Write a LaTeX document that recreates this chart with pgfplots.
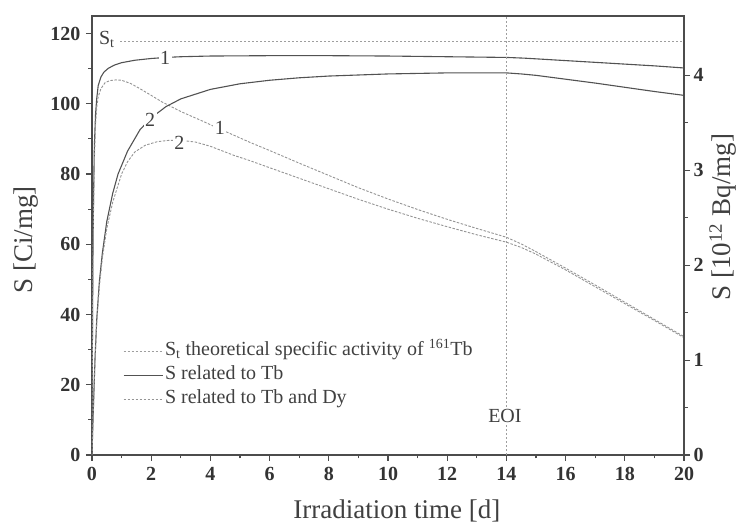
\documentclass[border=0pt]{standalone}
\usepackage{pgfplots}
\pgfplotsset{compat=1.18}
\usepackage{fontspec}
\setmainfont{Liberation Serif}

\definecolor{solidc}{gray}{0.32}
\definecolor{dashc}{gray}{0.58}
\definecolor{refc}{gray}{0.62}
\definecolor{framec}{gray}{0.3}

\pgfplotsset{
  frame/.style={
    scale only axis, width=592pt, height=439pt,
    xmin=0, xmax=20,
    tick align=outside,
    major tick length=6pt, minor tick length=3.5pt,
    axis line style={framec, line width=1.3pt},
    every tick/.style={framec, line width=1.1pt},
    /pgf/number format/assume math mode=true,
    ticklabel style={font=\bfseries\fontsize{20}{20}\selectfont, text=black!80},
    label style={font=\fontsize{27}{27}\selectfont, text=black!75},
  },
  tbline/.style={solidc, line width=1.1pt},
  dyline/.style={dashc, line width=0.9pt, dash pattern=on 2.5pt off 1.5pt},
  refline/.style={refc, line width=0.8pt, dash pattern=on 2pt off 2pt},
}

\begin{document}
\begin{tikzpicture}
\begin{axis}[
  frame,
  ymin=0, ymax=125,
  xtick={0,2,...,20}, minor xtick={1,3,...,19},
  ytick={0,20,...,120}, minor ytick={10,30,...,110},
  xtick pos=bottom, ytick pos=left,
  xticklabel style={yshift=-3pt},
  yticklabel style={xshift=-2pt},
  xlabel={Irradiation time [d]},
  xlabel style={at={(rel axis cs:0.515,0)}, anchor=center, yshift=-56pt},
  ylabel={S [Ci/mg]},
  ylabel style={at={(rel axis cs:0,0.49)}, anchor=center, yshift=66pt},
  legend cell align=left,
  legend style={draw=none, fill=none, at={(rel axis cs:0.052,0.262)}, anchor=north west,
    font=\fontsize{20}{20}\selectfont, text=black!75, row sep=2pt, inner sep=0pt,
    nodes={text height=13.5pt, text depth=4.5pt}},
  legend image code/.code={\draw[#1] (0pt,0pt) -- (39pt,0pt);},
]
\coordinate (bl) at (rel axis cs:0,0);
\coordinate (tr) at (rel axis cs:1,1);

% theoretical specific activity of 161Tb
\addplot[refline] coordinates {(0.95,117.8) (20,117.8)};
\addlegendentry{S\textsubscript{t} theoretical specific activity of \textsuperscript{161}Tb}

% curve 1, S related to Tb
\addplot[tbline] coordinates {
 (0,0) (0.01,25) (0.03,55) (0.05,72) (0.08,88) (0.12,97) (0.16,101.5) (0.21,105.2)
 (0.3,107.6) (0.4,109) (0.55,110.1) (0.75,111) (1,111.7) (1.45,112.4) (2,112.9)
 (2.5,113.2) (3,113.4) (4,113.6) (6,113.7) (8,113.7) (10,113.6) (12,113.4) (14,113.2)
 (14.6,113.0) (15,112.8) (16,112.3) (17,111.8) (18,111.3) (19,110.8) (20,110.2)};
\addlegendentry{S related to Tb}

% curve 1, S related to Tb and Dy
\addplot[dyline] coordinates {
 (0,0) (0.01,25) (0.03,52) (0.05,68) (0.08,84) (0.12,94) (0.16,99) (0.21,102)
 (0.3,104.3) (0.44,106) (0.6,106.6) (0.8,106.8) (1,106.7) (1.3,105.8) (1.6,104.4)
 (2,102.4) (2.35,100.6) (3,97.8) (3.7,95.2) (4.3,92.9) (5.34,89) (6,86.7) (7,83.1)
 (8,79.6) (9,76.1) (10,72.9) (11,69.9) (12,67.1) (13,64.5) (14,62) (14.5,60.1)
 (15,57.9) (16,53.2) (17,48.4) (18,43.5) (19,38.6) (20,33.7)};
\addlegendentry{S related to Tb and Dy}

% curve 2, S related to Tb
\addplot[tbline, forget plot] coordinates {
 (0,0) (0.02,6) (0.05,14) (0.1,27) (0.16,38.6) (0.25,49.5) (0.35,57.5) (0.5,66.5)
 (0.7,74.5) (0.88,80) (1.2,86.5) (1.62,92.6) (2,96) (2.5,99.2) (3,101.4) (4,104.1)
 (5,105.7) (6,106.7) (7,107.4) (8,107.9) (10,108.5) (12,108.8) (14,108.8) (14.5,108.5)
 (15,108.1) (16,107) (17,105.9) (18,104.7) (19,103.5) (20,102.4)};

% curve 2, S related to Tb and Dy
\addplot[dyline, forget plot] coordinates {
 (0,0) (0.02,6) (0.05,14) (0.1,26.5) (0.16,37.5) (0.25,48) (0.35,56) (0.5,64.5)
 (0.7,72) (1,80) (1.2,83.5) (1.45,86.3) (1.8,88.2) (2.2,89.2) (2.6,89.6) (3,89.6)
 (3.5,89.1) (4,87.9) (4.8,85.3) (5.34,83.8) (6,81.8) (7,78.8) (8,75.8) (9,72.8)
 (10,70) (11,67.4) (12,65) (13,62.7) (14,60.6) (14.5,59.1) (15,57.2) (16,52.7)
 (17,47.9) (18,43.1) (19,38.3) (20,33.4)};

% end of irradiation
\addplot[refline, forget plot] coordinates {(14,0) (14,125)};

% curve numbers and annotations
\begin{scope}[every node/.style={fill=white, inner sep=1.5pt, text=black!75,
    font=\fontsize{20}{20}\selectfont}]
\node at (axis cs:2.47,113.1) {1};
\node at (axis cs:1.96,95.4) {2};
\node at (axis cs:4.32,93.2) {1};
\node at (axis cs:2.95,88.9) {2};
\node at (axis cs:13.95,11.2) {EOI};
\node[fill=none] at (axis cs:0.5,118.3) {S\textsubscript{t}};
\end{scope}
\end{axis}

\begin{axis}[
  frame,
  ymin=0, ymax=4.625,
  axis x line=none, axis y line*=right,
  ytick={0,1,...,4}, minor ytick={0.5,1.5,...,3.5},
  ylabel={S [10\textsuperscript{12} Bq/mg]},
  ylabel style={at={(rel axis cs:1,0.542)}, anchor=center, yshift=-39pt},
]
\addplot[draw=none] coordinates {(0,0) (20,4)};
\end{axis}

\pgfresetboundingbox
\path ([shift={(-92pt,-71pt)}]bl) rectangle ([shift={(55pt,16pt)}]tr);
\end{tikzpicture}
\end{document}
